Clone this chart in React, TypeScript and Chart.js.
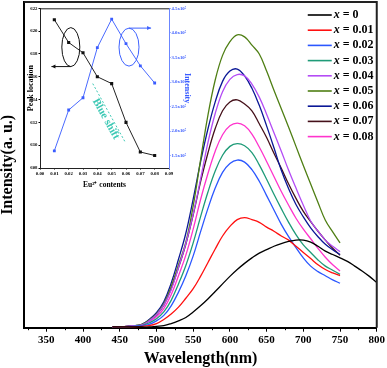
import React, { useEffect, useRef } from "react";
import { Chart, registerables } from "chart.js";
Chart.register(...registerables);

const FONT = '"Liberation Serif", "Times New Roman", serif';

// Main spectra: wavelength (nm) and intensity (x10^5 a.u.)
const WAVELENGTH = [440, 450, 460, 470, 480, 490, 500, 510, 520, 530, 540, 550, 560, 570, 580, 590, 600, 610, 620, 630, 640, 650, 660, 670, 680, 690, 700, 710, 720, 730, 740, 750];
const WAVELENGTH_X0 = [440, 450, 460, 470, 480, 490, 500, 510, 520, 530, 540, 550, 560, 570, 580, 590, 600, 610, 620, 630, 640, 650, 660, 670, 680, 690, 700, 710, 720, 730, 740, 750, 760, 770, 780, 790, 800];

const I_X000 = [0.01, 0.01, 0.01, 0.01, 0.01, 0.01, 0.02, 0.03, 0.06, 0.10, 0.15, 0.23, 0.32, 0.42, 0.53, 0.64, 0.75, 0.85, 0.94, 1.02, 1.09, 1.14, 1.19, 1.23, 1.26, 1.28, 1.28, 1.25, 1.19, 1.12, 1.07, 1.02, 0.97, 0.90, 0.83, 0.75, 0.66];
const I_X001 = [0.01, 0.01, 0.01, 0.01, 0.02, 0.03, 0.06, 0.12, 0.20, 0.30, 0.43, 0.57, 0.75, 0.95, 1.15, 1.34, 1.48, 1.58, 1.61, 1.58, 1.54, 1.47, 1.41, 1.34, 1.28, 1.19, 1.10, 1.01, 0.92, 0.85, 0.80, 0.76];
const I_X002 = [0.01, 0.01, 0.01, 0.02, 0.03, 0.05, 0.10, 0.18, 0.32, 0.52, 0.76, 1.05, 1.40, 1.74, 2.04, 2.27, 2.40, 2.45, 2.42, 2.31, 2.14, 1.93, 1.72, 1.51, 1.33, 1.17, 1.02, 0.90, 0.82, 0.76, 0.70, 0.65];
const I_X003 = [0.01, 0.01, 0.01, 0.02, 0.03, 0.07, 0.13, 0.23, 0.40, 0.64, 0.91, 1.24, 1.62, 1.98, 2.29, 2.52, 2.65, 2.69, 2.66, 2.56, 2.38, 2.17, 1.95, 1.74, 1.54, 1.36, 1.21, 1.10, 0.99, 0.90, 0.84, 0.78];
const I_X004 = [0.01, 0.01, 0.02, 0.03, 0.04, 0.10, 0.19, 0.33, 0.55, 0.88, 1.23, 1.66, 2.17, 2.70, 3.13, 3.45, 3.63, 3.70, 3.68, 3.56, 3.37, 3.12, 2.85, 2.58, 2.30, 2.04, 1.79, 1.56, 1.41, 1.28, 1.19, 1.11];
const I_X005 = [0.01, 0.01, 0.02, 0.03, 0.05, 0.11, 0.20, 0.35, 0.60, 0.92, 1.25, 1.78, 2.45, 3.10, 3.62, 3.98, 4.18, 4.28, 4.25, 4.13, 4.00, 3.75, 3.47, 3.20, 2.93, 2.65, 2.37, 2.10, 1.83, 1.57, 1.40, 1.24];
const I_X006 = [0.01, 0.01, 0.02, 0.03, 0.05, 0.12, 0.22, 0.38, 0.65, 1.00, 1.38, 1.88, 2.42, 2.90, 3.30, 3.60, 3.75, 3.78, 3.68, 3.50, 3.25, 2.95, 2.63, 2.30, 2.03, 1.80, 1.62, 1.46, 1.33, 1.22, 1.14, 1.07];
const I_X007 = [0.01, 0.01, 0.02, 0.03, 0.04, 0.11, 0.19, 0.33, 0.57, 0.88, 1.22, 1.65, 2.13, 2.55, 2.91, 3.17, 3.30, 3.33, 3.27, 3.17, 2.98, 2.78, 2.55, 2.33, 2.10, 1.89, 1.70, 1.55, 1.41, 1.28, 1.16, 1.06];
const I_X008 = [0.01, 0.01, 0.02, 0.02, 0.04, 0.09, 0.16, 0.28, 0.48, 0.76, 1.06, 1.44, 1.87, 2.25, 2.58, 2.82, 2.95, 2.99, 2.95, 2.83, 2.64, 2.43, 2.21, 1.99, 1.79, 1.60, 1.44, 1.30, 1.16, 1.03, 0.92, 0.83];

const SERIES_LABELS = ["x = 0", "x = 0.01", "x = 0.02", "x = 0.03", "x = 0.04", "x = 0.05", "x = 0.06", "x = 0.07", "x = 0.08"];
const SERIES_COLORS = ["#000000", "#ff1010", "#2b57ff", "#1f9b78", "#b44cf5", "#4f7f14", "#0a1796", "#45101a", "#ff33cc"];
const SERIES_X = [WAVELENGTH_X0, WAVELENGTH, WAVELENGTH, WAVELENGTH, WAVELENGTH, WAVELENGTH, WAVELENGTH, WAVELENGTH, WAVELENGTH];
const SERIES_Y = [I_X000, I_X001, I_X002, I_X003, I_X004, I_X005, I_X006, I_X007, I_X008];

const X_TICKS = [350, 400, 450, 500, 550, 600, 650, 700, 750, 800];

// Inset
const EU_CONTENT = [0.01, 0.02, 0.03, 0.04, 0.05, 0.06, 0.07, 0.08];
const PEAK_LOCATION = [621.0, 619.0, 618.1, 616.0, 615.4, 612.0, 609.4, 609.1];
const PEAK_INTENSITY = [1.60, 2.43, 2.68, 3.70, 4.28, 3.78, 3.33, 2.98]; // x10^5
const INSET_X_TICKS = [0, 0.01, 0.02, 0.03, 0.04, 0.05, 0.06, 0.07, 0.08, 0.09];
const INSET_L_TICKS = [608, 610, 612, 614, 616, 618, 620, 622];
const INSET_R_TICKS = [1.5, 2.0, 2.5, 3.0, 3.5, 4.0, 4.5];

const framePlugin = {
  id: "frame",
  afterDraw(chart: any) {
    const { ctx, chartArea: a } = chart;
    ctx.save();
    ctx.strokeStyle = "#222";
    ctx.lineWidth = 2;
    ctx.beginPath();
    ctx.moveTo(a.left, a.top);
    ctx.lineTo(a.right, a.top);
    ctx.lineTo(a.right, a.bottom);
    ctx.stroke();
    // minor ticks on x axis
    const xs = chart.scales.x;
    ctx.strokeStyle = "#000";
    ctx.lineWidth = 1;
    for (let v = 325; v < 800; v += 50) {
      const px = Math.round(xs.getPixelForValue(v)) + 0.5;
      ctx.beginPath();
      ctx.moveTo(px, a.bottom);
      ctx.lineTo(px, a.bottom + 2.5);
      ctx.stroke();
    }
    ctx.restore();
  },
};

const legendPlugin = {
  id: "seriesLegend",
  afterDraw(chart: any) {
    const { ctx, chartArea: a } = chart;
    ctx.save();
    ctx.textBaseline = "middle";
    chart.data.datasets.forEach((ds: any, i: number) => {
      const y = a.top + 13 + i * 15.2;
      ctx.strokeStyle = ds.borderColor;
      ctx.lineWidth = 1.6;
      ctx.beginPath();
      ctx.moveTo(a.right - 69, y);
      ctx.lineTo(a.right - 45, y);
      ctx.stroke();
      const tx = a.right - 43;
      ctx.fillStyle = "#000";
      ctx.font = `italic bold 12px ${FONT}`;
      const lbl: string = ds.label;
      ctx.fillText(lbl.slice(0, 1), tx, y);
      const w = ctx.measureText(lbl.slice(0, 1)).width;
      ctx.font = `bold 12px ${FONT}`;
      ctx.fillText(lbl.slice(1), tx + w, y);
    });
    ctx.restore();
  },
};

const insetPlugin = {
  id: "insetDeco",
  afterDraw(chart: any) {
    const { ctx, chartArea: a, scales } = chart;
    const X = scales.x, L = scales.yL, R = scales.yR;
    ctx.save();
    // top frame
    ctx.strokeStyle = "#222";
    ctx.lineWidth = 1;
    ctx.beginPath();
    ctx.moveTo(a.left, a.top + 0.5);
    ctx.lineTo(a.right, a.top + 0.5);
    ctx.stroke();

    const arrow = (x1: number, y1: number, x2: number, y2: number, color: string) => {
      ctx.strokeStyle = color;
      ctx.fillStyle = color;
      ctx.lineWidth = 1;
      ctx.beginPath();
      ctx.moveTo(x1, y1);
      ctx.lineTo(x2, y2);
      ctx.stroke();
      const ang = Math.atan2(y2 - y1, x2 - x1);
      ctx.beginPath();
      ctx.moveTo(x2, y2);
      ctx.lineTo(x2 - 4 * Math.cos(ang) + 2 * Math.sin(ang), y2 - 4 * Math.sin(ang) - 2 * Math.cos(ang));
      ctx.lineTo(x2 - 4 * Math.cos(ang) - 2 * Math.sin(ang), y2 - 4 * Math.sin(ang) + 2 * Math.cos(ang));
      ctx.closePath();
      ctx.fill();
    };

    // black ellipse + arrow (peak location -> left axis)
    const bx = X.getPixelForValue(0.0215), by = L.getPixelForValue(618.6);
    ctx.strokeStyle = "#111";
    ctx.lineWidth = 1;
    ctx.beginPath();
    ctx.ellipse(bx, by, 9, 19.5, 0, 0, Math.PI * 2);
    ctx.stroke();
    arrow(bx, by + 19.5, X.getPixelForValue(0.008), by + 19.5, "#111");

    // blue ellipse + arrow (intensity -> right axis)
    const cx = X.getPixelForValue(0.0621), cy = R.getPixelForValue(3.71);
    ctx.strokeStyle = "#3f63ff";
    ctx.beginPath();
    ctx.ellipse(cx, cy, 10, 19, 0, 0, Math.PI * 2);
    ctx.stroke();
    arrow(cx, cy - 19, X.getPixelForValue(0.0775), cy - 19, "#3f63ff");

    // blue shift dashed line + text
    const x1 = X.getPixelForValue(0.0368), y1 = L.getPixelForValue(615.4);
    const x2 = X.getPixelForValue(0.0593), y2 = L.getPixelForValue(610.3);
    ctx.strokeStyle = "#3cc8b4";
    ctx.setLineDash([2, 2]);
    ctx.beginPath();
    ctx.moveTo(x1, y1);
    ctx.lineTo(x2, y2);
    ctx.stroke();
    ctx.setLineDash([]);
    const tx = X.getPixelForValue(0.046), ty = L.getPixelForValue(612.3);
    ctx.translate(tx, ty);
    ctx.rotate(Math.atan2(y2 - y1, x2 - x1));
    ctx.fillStyle = "#3cc8b4";
    ctx.font = `bold 11px ${FONT}`;
    ctx.textAlign = "center";
    ctx.textBaseline = "middle";
    ctx.fillText("Blue shift", 0, 0);
    ctx.restore();
  },
};

export default function App() {
  const mainRef = useRef<HTMLCanvasElement>(null);
  const insetRef = useRef<HTMLCanvasElement>(null);

  useEffect(() => {
    const main = new Chart(mainRef.current as HTMLCanvasElement, {
      type: "line",
      data: {
        datasets: SERIES_LABELS.map((label, i) => ({
          label,
          data: SERIES_X[i].map((x, j) => ({ x, y: SERIES_Y[i][j] })),
          borderColor: SERIES_COLORS[i],
          backgroundColor: SERIES_COLORS[i],
          borderWidth: 1.3,
          pointRadius: 0,
          fill: false,
          tension: 0.4,
        })),
      },
      options: {
        animation: false,
        responsive: false,
        events: [],
        layout: { padding: { left: 0, top: 2, right: 10, bottom: 0 } },
        plugins: { legend: { display: false }, tooltip: { enabled: false } },
        scales: {
          x: {
            type: "linear",
            min: 320,
            max: 800,
            afterBuildTicks: (s: any) => {
              s.ticks = X_TICKS.map((v) => ({ value: v }));
            },
            afterFit: (s: any) => {
              s.height = 40.3;
            },
            grid: { display: true, drawOnChartArea: false, drawTicks: true, tickLength: 4, color: "#000", tickWidth: 1 },
            border: { display: true, color: "#000", width: 2 },
            ticks: { color: "#000", padding: 2, maxRotation: 0, autoSkip: false, font: { family: FONT, weight: "bold", size: 11 } },
            title: {
              display: true,
              text: "Wavelength(nm)",
              color: "#000",
              font: { family: FONT, weight: "bold", size: 16, lineHeight: 1.2 },
              padding: { top: 0, bottom: 0 },
            },
          },
          y: {
            type: "linear",
            min: 0,
            max: 4.76,
            afterFit: (s: any) => {
              s.width = 24.3;
            },
            grid: { display: false },
            border: { display: true, color: "#000", width: 2 },
            ticks: { display: false },
            title: {
              display: true,
              text: "Intensity(a. u.)",
              color: "#000",
              font: { family: FONT, weight: "bold", size: 16, lineHeight: 1 },
              padding: { top: 0, bottom: 0 },
            },
          },
        },
      },
      plugins: [framePlugin, legendPlugin],
    } as any);

    const tickFont = { family: FONT, weight: "bold", size: 4.8 };
    const inset = new Chart(insetRef.current as HTMLCanvasElement, {
      type: "line",
      data: {
        datasets: [
          {
            label: "Peak location",
            data: EU_CONTENT.map((x, i) => ({ x, y: PEAK_LOCATION[i] })),
            yAxisID: "yL",
            borderColor: "#222",
            backgroundColor: "#111",
            borderWidth: 1,
            pointStyle: "rect",
            pointRadius: 2.2,
            pointBorderWidth: 0,
            tension: 0,
          },
          {
            label: "Intensity",
            data: EU_CONTENT.map((x, i) => ({ x, y: PEAK_INTENSITY[i] })),
            yAxisID: "yR",
            borderColor: "#4a6aff",
            backgroundColor: "#3a5cff",
            borderWidth: 1,
            pointStyle: "rect",
            pointRadius: 2.0,
            pointBorderWidth: 0,
            tension: 0,
          },
        ],
      },
      options: {
        animation: false,
        responsive: false,
        events: [],
        layout: { padding: { left: 23, top: 8.3, right: 192.4, bottom: 174.8 } },
        plugins: { legend: { display: false }, tooltip: { enabled: false } },
        scales: {
          x: {
            type: "linear",
            min: 0,
            max: 0.09,
            afterBuildTicks: (s: any) => {
              s.ticks = INSET_X_TICKS.map((v) => ({ value: v }));
            },
            afterFit: (s: any) => {
              s.height = 25.2;
            },
            grid: { display: true, drawOnChartArea: false, drawTicks: true, tickLength: 1.5, color: "#000" },
            border: { display: true, color: "#222", width: 1 },
            ticks: { color: "#000", padding: 1, maxRotation: 0, autoSkip: false, font: tickFont, callback: (v: any) => Number(v).toFixed(2) },
            title: {
              display: true,
              text: "Eu²⁺ contents",
              color: "#000",
              font: { family: FONT, weight: "bold", size: 7.5, lineHeight: 1.2 },
              padding: { top: 0, bottom: 4 },
            },
          },
          yL: {
            type: "linear",
            position: "left",
            min: 608,
            max: 622,
            afterBuildTicks: (s: any) => {
              s.ticks = INSET_L_TICKS.map((v) => ({ value: v }));
            },
            afterFit: (s: any) => {
              s.width = 17;
            },
            grid: { display: true, drawOnChartArea: false, drawTicks: true, tickLength: 1.5, color: "#000" },
            border: { display: true, color: "#222", width: 1 },
            ticks: { color: "#000", padding: 1, autoSkip: false, font: tickFont },
            title: {
              display: true,
              text: "Peak location",
              color: "#000",
              font: { family: FONT, weight: "bold", size: 8, lineHeight: 1.2 },
              padding: { top: 3, bottom: 0 },
            },
          },
          yR: {
            type: "linear",
            position: "right",
            min: 1.25,
            max: 4.5,
            afterBuildTicks: (s: any) => {
              s.ticks = INSET_R_TICKS.map((v) => ({ value: v }));
            },
            afterFit: (s: any) => {
              s.width = 25.6;
            },
            grid: { display: true, drawOnChartArea: false, drawTicks: true, tickLength: 1.5, color: "#4a6aff" },
            border: { display: true, color: "#6b86ff", width: 1 },
            ticks: { color: "#3a5cff", padding: 1, autoSkip: false, font: tickFont, callback: (v: any) => `${Number(v).toFixed(1)}x10⁵` },
            title: {
              display: true,
              text: "Intensity",
              color: "#3a5cff",
              font: { family: FONT, weight: "bold", size: 8, lineHeight: 1.2 },
              padding: { top: 3, bottom: 0 },
            },
          },
        },
      },
      plugins: [insetPlugin],
    } as any);

    return () => {
      main.destroy();
      inset.destroy();
    };
  }, []);

  const canvasStyle: React.CSSProperties = { position: "absolute", left: 0, top: 0, width: 387, height: 368 };
  return (
    <div style={{ position: "fixed", left: 0, top: 0, width: 387, height: 368, background: "#fff" }}>
      <canvas ref={mainRef} width={387} height={368} style={canvasStyle} />
      <canvas ref={insetRef} width={387} height={368} style={canvasStyle} />
    </div>
  );
}
